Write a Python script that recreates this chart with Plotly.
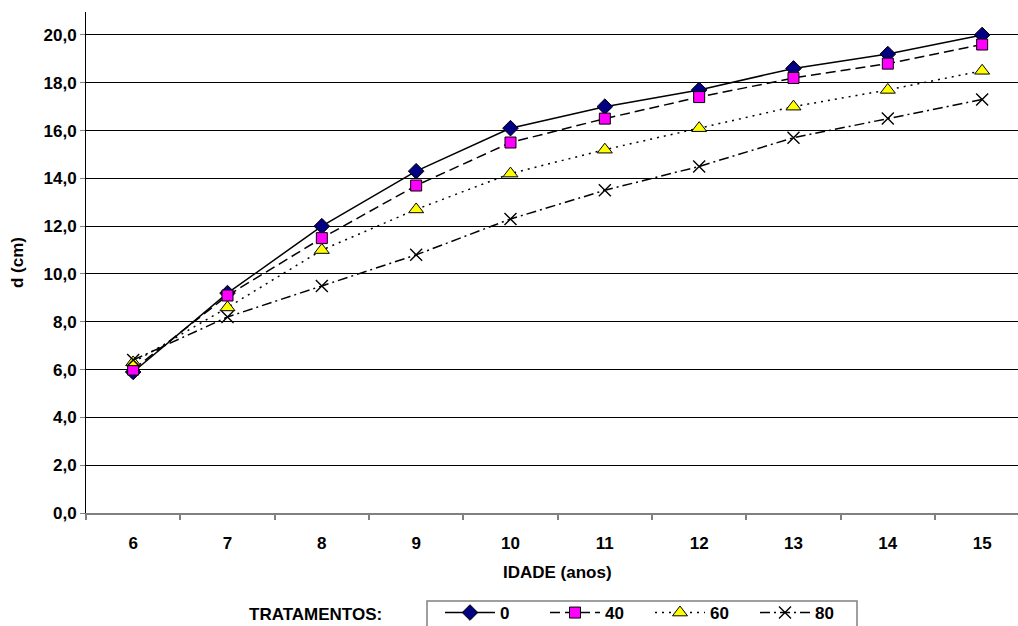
import plotly.graph_objects as go

# Idade (anos) e diâmetro médio d (cm) por tratamento
idade = [6, 7, 8, 9, 10, 11, 12, 13, 14, 15]
trat_0 = [5.9, 9.2, 12.0, 14.3, 16.1, 17.0, 17.7, 18.6, 19.2, 20.0]
trat_40 = [6.0, 9.1, 11.5, 13.7, 15.5, 16.5, 17.4, 18.2, 18.8, 19.6]
trat_60 = [6.3, 8.6, 11.0, 12.7, 14.2, 15.2, 16.1, 17.0, 17.7, 18.5]
trat_80 = [6.4, 8.2, 9.5, 10.8, 12.3, 13.5, 14.5, 15.7, 16.5, 17.3]

y_ticks = [0, 2, 4, 6, 8, 10, 12, 14, 16, 18, 20]
y_labels = ["0,0", "2,0", "4,0", "6,0", "8,0", "10,0", "12,0", "14,0", "16,0", "18,0", "20,0"]

FONT = "Liberation Sans, Arial, sans-serif"
FS = 17
W, H = 1018, 626
ML, MR, MT, MB = 86, 0, 12, 113

series = [
    ("0", trat_0, "solid", dict(symbol="diamond", size=12, color="#000080",
                                line=dict(color="#000000", width=1))),
    ("40", trat_40, "10px,5px", dict(symbol="square", size=11, color="#FF00FF",
                                     line=dict(color="#000000", width=1))),
    ("60", trat_60, "2px,5px", dict(symbol="triangle-up", size=13, color="#FFFF00",
                                    line=dict(color="#000000", width=1))),
    ("80", trat_80, "10px,4px,2px,4px", dict(symbol="x-thin", size=12, color="#000000",
                                             line=dict(color="#000000", width=1.4))),
]

fig = go.Figure()
for name, vals, dash, marker in series:
    fig.add_trace(go.Scatter(
        x=idade, y=vals, name=name, mode="lines+markers",
        line=dict(color="#000000", width=1.5, dash=dash),
        marker=marker,
    ))

plot_h = H - MT - MB
plot_w = W - ML - MR

def px_to_paper_y(py):
    return (H - MB - py) / plot_h

def px_to_paper_x(px):
    return (px - ML) / plot_w

bold = dict(family=FONT, size=FS, color="#000000", weight="bold")

fig.update_layout(
    width=W, height=H,
    margin=dict(l=ML, r=MR, t=MT, b=MB, autoexpand=False),
    paper_bgcolor="white", plot_bgcolor="white",
    font=bold,
    showlegend=True,
    legend=dict(
        orientation="h",
        x=px_to_paper_x(440), xanchor="left",
        y=px_to_paper_y(595), yanchor="top",
        borderwidth=0,
        bgcolor="rgba(0,0,0,0)",
        font=bold,
        itemwidth=50,
        entrywidth=40,
        tracegroupgap=0,
    ),
    xaxis=dict(
        range=[5.5, 15.38],
        tickmode="array", tickvals=idade, ticktext=[str(v) for v in idade],
        ticks="", showgrid=False, zeroline=False,
        showline=True, linecolor="#808080", linewidth=2,
        ticklabelstandoff=14,
        minor=dict(ticks="outside", tick0=5.5, dtick=1, ticklen=5,
                   tickcolor="#808080", tickwidth=2, showgrid=False),
    ),
    yaxis=dict(
        range=[0, 20.96],
        tickmode="array", tickvals=y_ticks, ticktext=y_labels,
        ticks="outside", ticklen=5, tickcolor="#808080", tickwidth=1,
        showgrid=True, gridcolor="#000000", gridwidth=1,
        zeroline=False,
        showline=True, linecolor="#000000", linewidth=1,
    ),
    shapes=[
        # moldura da legenda
        dict(type="rect", xref="paper", yref="paper",
             x0=px_to_paper_x(427), x1=px_to_paper_x(857),
             y0=px_to_paper_y(601), y1=px_to_paper_y(640),
             line=dict(color="#808080", width=1.5), fillcolor="rgba(0,0,0,0)",
             layer="below"),
    ],
    annotations=[
        dict(text="d (cm)", xref="paper", yref="paper",
             x=px_to_paper_x(17), y=px_to_paper_y(263), textangle=-90,
             xanchor="center", yanchor="middle", showarrow=False, font=bold),
        dict(text="IDADE (anos)", xref="paper", yref="paper",
             x=px_to_paper_x(557), y=px_to_paper_y(572),
             xanchor="center", yanchor="middle", showarrow=False, font=bold),
        dict(text="TRATAMENTOS:", xref="paper", yref="paper",
             x=px_to_paper_x(384), y=px_to_paper_y(614),
             xanchor="right", yanchor="middle", showarrow=False, font=bold),
    ],
)

fig.write_html("out.html")
